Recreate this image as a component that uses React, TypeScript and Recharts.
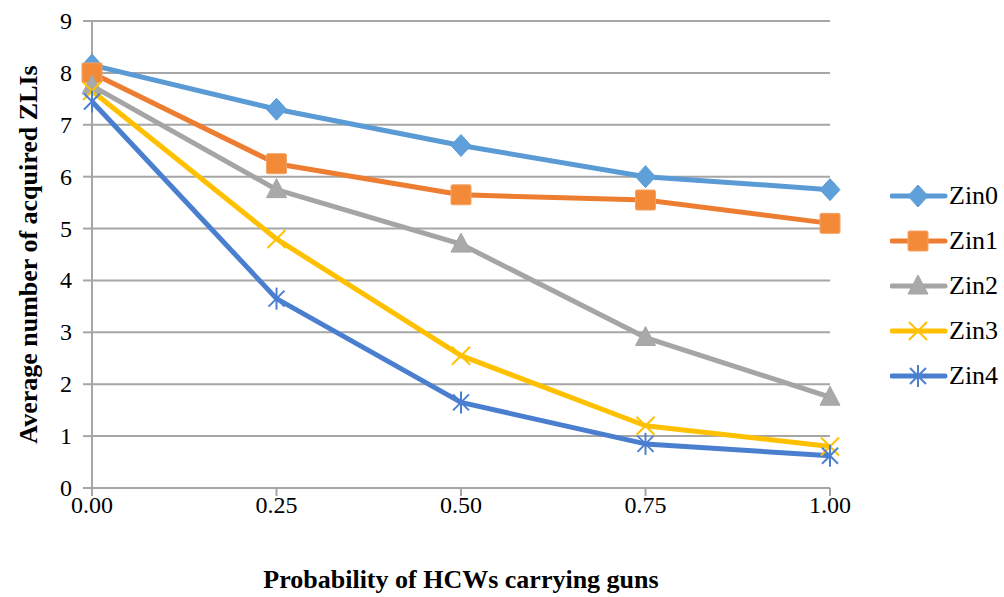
import { CartesianGrid, Line, LineChart, XAxis, YAxis } from 'recharts'

const probabilities = [0, 0.25, 0.5, 0.75, 1]
const zin0 = [8.15, 7.3, 6.6, 6.0, 5.75]
const zin1 = [8.0, 6.25, 5.65, 5.55, 5.1]
const zin2 = [7.75, 5.75, 4.7, 2.9, 1.75]
const zin3 = [7.65, 4.8, 2.55, 1.2, 0.8]
const zin4 = [7.45, 3.65, 1.65, 0.85, 0.62]
const yTicks = [0, 1, 2, 3, 4, 5, 6, 7, 8, 9]

type Shape = 'diamond' | 'square' | 'triangle' | 'cross' | 'star'

const series: { key: string; name: string; color: string; fill: string; shape: Shape }[] = [
  { key: 'zin0', name: 'Zin0', color: '#5b9bd5', fill: '#5fa0da', shape: 'diamond' },
  { key: 'zin1', name: 'Zin1', color: '#ed7d31', fill: '#f28a37', shape: 'square' },
  { key: 'zin2', name: 'Zin2', color: '#a5a5a5', fill: '#a9a9a9', shape: 'triangle' },
  { key: 'zin3', name: 'Zin3', color: '#ffc000', fill: '#ffc000', shape: 'cross' },
  { key: 'zin4', name: 'Zin4', color: '#4a7fd0', fill: '#4a7fd0', shape: 'star' },
]

const chartData = probabilities.map((p, i) => ({
  p,
  zin0: zin0[i],
  zin1: zin1[i],
  zin2: zin2[i],
  zin3: zin3[i],
  zin4: zin4[i],
}))

const FONT = 'Liberation Serif, DejaVu Serif, serif'
const GRID = '#a6a6a6'

function Marker({ shape, cx, cy, color, fill }: { shape: Shape; cx: number; cy: number; color: string; fill: string }) {
  if (shape === 'diamond') {
    return (
      <polygon
        points={`${cx},${cy - 11} ${cx + 10},${cy} ${cx},${cy + 11} ${cx - 10},${cy}`}
        fill={fill}
        stroke={color}
        strokeWidth={1}
      />
    )
  }
  if (shape === 'square') {
    return <rect x={cx - 10} y={cy - 10} width={20} height={20} rx={1.5} fill={fill} stroke="#f4a366" strokeWidth={1} />
  }
  if (shape === 'triangle') {
    return (
      <polygon
        points={`${cx},${cy - 11} ${cx + 10},${cy + 8} ${cx - 10},${cy + 8}`}
        fill={fill}
        stroke={color}
        strokeWidth={1}
      />
    )
  }
  if (shape === 'cross') {
    return (
      <g stroke={color} strokeWidth={2}>
        <line x1={cx - 9} y1={cy - 9} x2={cx + 9} y2={cy + 9} />
        <line x1={cx - 9} y1={cy + 9} x2={cx + 9} y2={cy - 9} />
      </g>
    )
  }
  return (
    <g stroke={color} strokeWidth={2}>
      <line x1={cx - 8} y1={cy - 8} x2={cx + 8} y2={cy + 8} />
      <line x1={cx - 8} y1={cy + 8} x2={cx + 8} y2={cy - 8} />
      <line x1={cx} y1={cy - 11} x2={cx} y2={cy + 11} />
    </g>
  )
}

function XTick({ x, y, payload }: any) {
  return (
    <text x={x} y={y + 17} textAnchor="middle" style={{ fontFamily: FONT, fontSize: 24 }} fill="#000">
      {Number(payload.value).toFixed(2)}
    </text>
  )
}

function YTick({ x, y, payload }: any) {
  return (
    <text x={x - 11} y={y + 8} textAnchor="end" style={{ fontFamily: FONT, fontSize: 24 }} fill="#000">
      {payload.value}
    </text>
  )
}

function LegendBox() {
  return (
    <div style={{ position: 'absolute', left: 890, top: 173, fontFamily: FONT, fontSize: 26, color: '#000' }}>
      {series.map(s => (
        <div key={s.key} style={{ display: 'flex', alignItems: 'center', height: 45 }}>
          <svg width={58} height={30} style={{ display: 'block' }}>
            <line x1={2} y1={15} x2={55} y2={15} stroke={s.color} strokeWidth={5} strokeLinecap="round" />
            <Marker shape={s.shape} cx={28} cy={15} color={s.color} fill={s.fill} />
          </svg>
          <span style={{ marginLeft: 1, fontFamily: FONT }}>{s.name}</span>
        </div>
      ))}
    </div>
  )
}

const titleStyle = { fontFamily: FONT, fontSize: 26, fontWeight: 'bold', fill: '#000' }

export default function App() {
  return (
    <div style={{ position: 'absolute', left: 0, top: 0, width: 1004, height: 597, background: '#fff', fontFamily: FONT }}>
      <LineChart width={1004} height={597} data={chartData} margin={{ top: 21, right: 174, bottom: 0, left: 0 }}>
        <CartesianGrid vertical={false} stroke={GRID} strokeWidth={2} />
        <XAxis
          dataKey="p"
          type="number"
          domain={[0, 1]}
          ticks={probabilities}
          height={109}
          stroke={GRID}
          strokeWidth={2}
          tickSize={8}
          tickMargin={0}
          tick={<XTick />}
          label={{
            value: 'Probability of HCWs carrying guns',
            position: 'insideBottom',
            offset: 9,
            style: titleStyle,
          }}
        />
        <YAxis
          type="number"
          domain={[0, 9]}
          ticks={yTicks}
          width={92}
          stroke={GRID}
          strokeWidth={2}
          tickSize={9}
          tickMargin={0}
          interval={0}
          tick={<YTick />}
          label={{
            value: 'Average number of acquired ZLIs',
            angle: -90,
            position: 'insideLeft',
            offset: 28,
            style: { ...titleStyle, textAnchor: 'middle' },
          }}
        />
        {series.map(s => (
          <Line
            key={s.key}
            dataKey={s.key}
            name={s.name}
            type="linear"
            stroke={s.color}
            strokeWidth={5}
            strokeLinejoin="round"
            isAnimationActive={false}
            dot={(props: any) => (
              <Marker key={`${s.key}-${props.index}`} shape={s.shape} cx={props.cx} cy={props.cy} color={s.color} fill={s.fill} />
            )}
            activeDot={false}
          />
        ))}
      </LineChart>
      <LegendBox />
    </div>
  )
}
